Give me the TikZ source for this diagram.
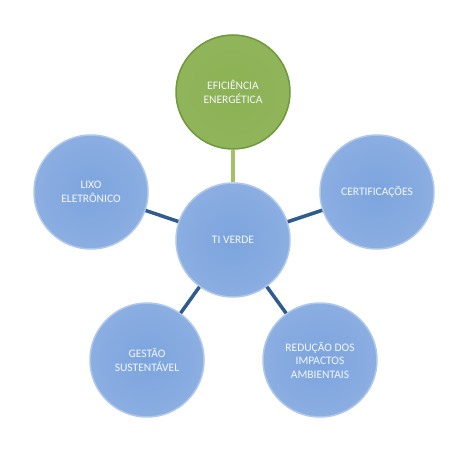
\documentclass[tikz,border=0pt]{standalone}
\usepackage{fontspec}
\setmainfont{Carlito}
\begin{document}
\begin{tikzpicture}[x=1pt,y=-1pt,
  bub/.style={circle,minimum size=114pt,inner sep=0pt,align=center,text=txtc,
    font=\fontsize{11.5}{13.5}\selectfont,draw=bubrim,line width=1.5pt,
    inner color=bubin,outer color=bubout},
  gbub/.style={bub,draw=grim,inner color=grin,outer color=grout},
  link/.style={draw=linkc,line width=3.5pt},
  glink/.style={draw=glinkc,line width=4.5pt}]
\definecolor{txtc}{HTML}{F4F7FC}
\definecolor{bubin}{HTML}{7CA4DD}
\definecolor{bubout}{HTML}{8BAEE2}
\definecolor{bubrim}{HTML}{AEC7EA}
\definecolor{grin}{HTML}{8CB255}
\definecolor{grout}{HTML}{90B45A}
\definecolor{grim}{HTML}{6E9A3A}
\definecolor{linkc}{HTML}{2F5B8E}
\definecolor{glinkc}{HTML}{A3C266}
\useasboundingbox[fill=white] (0,0) rectangle (455,468);
\node[bub]  (c)  at (233,240) {TI VERDE};
\node[gbub] (t)  at (233,92)  {EFICIÊNCIA\\ENERGÉTICA};
\node[bub]  (r)  at (377,192) {CERTIFICAÇÕES};
\node[bub]  (br) at (320,360) {REDUÇÃO DOS\\IMPACTOS\\AMBIENTAIS};
\node[bub]  (bl) at (147,360) {GESTÃO\\SUSTENTÁVEL};
\node[bub]  (l)  at (91,192)  {LIXO\\ELETRÔNICO};
\draw[glink] (c) -- (t);
\draw[link] (c) -- (r);
\draw[link] (c) -- (br);
\draw[link] (c) -- (bl);
\draw[link] (c) -- (l);
\end{tikzpicture}
\end{document}
